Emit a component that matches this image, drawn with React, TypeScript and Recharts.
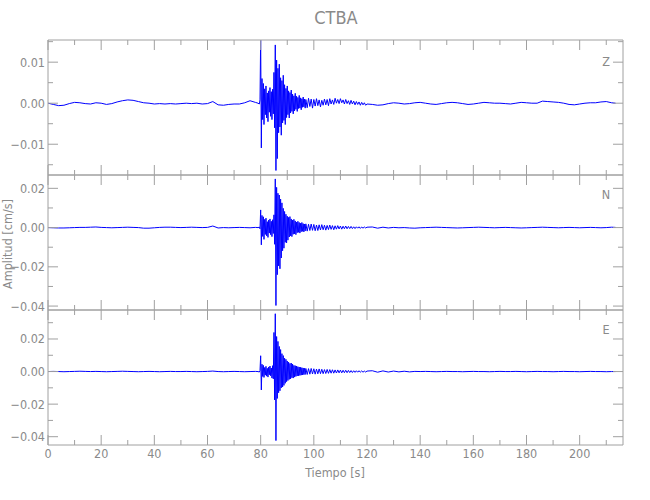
import { LineChart, Line, XAxis, YAxis } from 'recharts';

// time [s], split where the sampling step changes
const tA = [0, 2, 4, 6, 8, 10, 12, 14, 16, 18, 20, 22, 24, 26, 28, 30, 32, 34, 36, 38,
  40, 42, 44, 46, 48, 50, 52, 54, 56, 58, 60, 62, 64, 66, 68, 70, 72, 74, 76, 78];
const tB = [79, 79.5,
  79.75, 80, 80.25, 80.5, 80.75, 81, 81.25, 81.5, 81.75, 82,
  82.25, 82.5, 82.75, 83, 83.25, 83.5, 83.75, 84, 84.25, 84.5,
  84.75, 85, 85.25, 85.5, 85.75, 86, 86.25, 86.5, 86.75, 87,
  87.25, 87.5, 87.75, 88, 88.25, 88.5, 88.75, 89, 89.25, 89.5,
  89.75, 90, 90.25, 90.5, 90.75, 91, 91.25, 91.5, 91.75, 92,
  92.25, 92.5, 92.75, 93, 93.25, 93.5, 93.75, 94, 94.25, 94.5,
  94.75, 95, 95.25, 95.5, 95.75, 96, 96.25, 96.5, 96.75, 97];
const tC = [97.5, 98, 98.5, 99, 99.5, 100,
  100.5, 101, 101.5, 102, 102.5, 103, 103.5, 104, 104.5, 105,
  105.5, 106, 106.5, 107, 107.5, 108, 108.5, 109, 109.5, 110,
  110.5, 111, 111.5, 112, 112.5, 113, 113.5, 114, 114.5, 115,
  115.5, 116, 116.5, 117, 117.5, 118, 118.5, 119, 119.5, 120];
const tD = [122, 124, 126, 128, 130, 132, 134, 136, 138, 140, 142, 144, 146, 148, 150, 152,
  154, 156, 158, 160, 162, 164, 166, 168, 170, 172, 174, 176, 178, 180, 182, 184, 186, 188,
  190, 192, 194, 196, 198, 200, 202, 204, 206, 208, 210, 212, 213.5];

// Z component [cm/s]
const zA = [0, -0.0003, -0.0006, -0.0005, -0.0001, 0.0002, 0.0001, -0.0001, -0.0002, 0.0001,
  0, -0.0003, -0.0001, 0.0003, 0.0006, 0.0008, 0.0007, 0.0004, 0.0001, 0,
  -0.0002, -0.0001, -0.0002, -0.0001, -0.0002, -0.0001, 0, -0.0001, 0, -0.0002,
  -0.0001, 0.0004, -0.0004, -0.0005, -0.0003, -0.0002, -0.0002, 0.0001, 0.0006, 0.0002];
const zB = [0, -0.0002,
  0.0008, 0.016, -0.0109, 0.006, -0.004, 0.0048, -0.0052, 0.0035, -0.0028, 0.0042,
  -0.0036, 0.0025, -0.0045, 0.003, -0.0022, 0.0038, -0.0032, 0.0028, -0.004, 0.0034,
  -0.0026, 0.0075, -0.006, 0.0142, -0.0164, 0.0105, -0.0135, 0.0085, -0.0072, 0.0095,
  -0.0058, 0.0062, -0.0078, 0.0055, -0.0048, 0.0068, -0.0042, 0.0045, -0.0052, 0.0036,
  -0.0035, 0.0042, -0.0028, 0.003, -0.0036, 0.0026, -0.0024, 0.0032, -0.002, 0.0022,
  -0.0026, 0.0018, -0.0019, 0.0024, -0.0015, 0.0017, -0.002, 0.0014, -0.0013, 0.0019,
  -0.0012, 0.0013, -0.0016, 0.0011, -0.001, 0.0015, -0.0009, 0.001, -0.0012, 0.0009];
const zC = [-0.0011, 0.0012, -0.0008, 0.001, -0.0012, 0.0009,
  -0.0007, 0.0011, -0.0006, 0.0008, -0.0009, 0.0007, -0.0005, 0.001, -0.0004, 0.0009,
  -0.0006, 0.0011, -0.0002, 0.0008, -0.0003, 0.0012, 0, 0.0009, -0.0001, 0.0011,
  0.0001, 0.0008, -0.0002, 0.0009, -0.0001, 0.0006, -0.0003, 0.0007, -0.0002, 0.0005,
  -0.0004, 0.0004, -0.0003, 0.0003, -0.0005, 0.0002, -0.0004, 0.0001, -0.0005, -0.0002];
const zD = [-0.0003, -0.0005, -0.0004, -0.0001, 0.0001, 0, -0.0002, -0.0001, 0.0001, 0.0002,
  0, -0.0002, -0.0003, -0.0001, 0.0001, 0.0002, 0.0001, -0.0001, -0.0003, -0.0002,
  0, 0.0002, 0.0001, 0, 0, -0.0001, -0.0002, 0, 0.0002, 0.0001,
  0, 0, 0.0005, 0.0004, 0.0003, 0.0002, 0, -0.0003, -0.0004, -0.0002,
  0, 0.0001, 0.0001, 0.0003, 0.0004, 0.0001, 0];

// N component [cm/s]
const nA = [0, -0.0001, -0.0002, -0.0002, -0.0001, 0, 0.0001, 0.0001, 0.0002, 0.0003,
  0.0001, 0, -0.0001, 0, 0.0001, 0.0002, 0.0001, 0, -0.0003, -0.0003,
  -0.0001, 0.0001, 0.0002, 0.0002, 0.0001, 0, 0.0001, 0.0002, 0.0001, 0,
  0.0001, 0.0008, -0.0002, 0, -0.0001, 0, 0.0001, 0, -0.0001, 0.0001];
const nB = [0, 0.0002,
  -0.0006, 0.009, -0.0088, 0.0062, -0.0045, 0.0055, -0.006, 0.0042, -0.0035, 0.0048,
  -0.0042, 0.003, -0.005, 0.0038, -0.0028, 0.0044, -0.0036, 0.0032, -0.0046, 0.004,
  -0.003, 0.0065, -0.0085, 0.0248, -0.0397, 0.0205, -0.024, 0.0175, -0.0195, 0.0166,
  -0.021, 0.0145, -0.0155, 0.0126, -0.0118, 0.0098, -0.0105, 0.0082, -0.0075, 0.0068,
  -0.0078, 0.0058, -0.0064, 0.0052, -0.0048, 0.0056, -0.0042, 0.0044, -0.0046, 0.0038,
  -0.0034, 0.0042, -0.0032, 0.0034, -0.0036, 0.0028, -0.0026, 0.0032, -0.0024, 0.0026,
  -0.0028, 0.0022, -0.0021, 0.0026, -0.0019, 0.002, -0.0022, 0.0018, -0.0017, 0.0019];
const nC = [-0.0018, 0.0017, -0.0015, 0.0018, -0.0014, 0.0016,
  -0.0016, 0.0013, -0.0015, 0.0014, -0.0012, 0.0015, -0.0011, 0.0012, -0.0013, 0.0011,
  -0.001, 0.0013, -0.0009, 0.001, -0.0011, 0.0009, -0.0008, 0.001, -0.0007, 0.0008,
  -0.0008, 0.0007, -0.0006, 0.0008, -0.0006, 0.0006, -0.0005, 0.0006, -0.0005, 0.0004,
  -0.0005, 0.0004, -0.0003, 0.0004, -0.0004, 0.0003, -0.0003, 0.0003, -0.0002, 0.0002];
const nD = [0.0003, -0.0003, 0.0002, -0.0002, 0.0001, -0.0001, 0, -0.0002, -0.0003, -0.0001,
  0, 0.0001, 0.0002, 0.0001, 0, -0.0001, -0.0002, -0.0001, 0, 0.0001,
  0.0002, 0.0001, 0, -0.0001, 0, 0.0001, 0, -0.0001, -0.0002, -0.0001,
  0, 0.0001, 0.0002, 0.0001, 0, -0.0001, 0, 0.0001, 0, -0.0001,
  0, 0.0001, 0, -0.0001, 0, 0.0002, 0.0001];

// E component [cm/s]
const eA = [0, 0.0001, 0, -0.0001, 0, 0.0001, 0.0002, 0.0001, 0, 0.0001,
  0, -0.0001, 0, 0.0001, 0.0002, 0.0001, 0, -0.0001, 0, 0.0001,
  0, -0.0001, 0, 0.0001, 0, 0, 0.0001, 0, -0.0001, 0,
  0.0001, 0.0003, 0, -0.0001, 0, 0.0001, 0, -0.0001, 0, 0.0001];
const eB = [0, -0.0003,
  0.0006, 0.0097, -0.0113, 0.0045, -0.003, 0.0038, -0.0036, 0.0025, -0.0022, 0.0032,
  -0.0028, 0.002, -0.0034, 0.0028, -0.002, 0.0034, -0.0026, 0.0022, -0.004, 0.0036,
  -0.0045, 0.024, -0.0174, 0.0355, -0.0424, 0.0215, -0.0165, 0.0185, -0.013, 0.0154,
  -0.0118, 0.0135, -0.01, 0.011, -0.0095, 0.0098, -0.0085, 0.0082, -0.0072, 0.0075,
  -0.0062, 0.0065, -0.0055, 0.0058, -0.0048, 0.005, -0.0045, 0.0052, -0.0038, 0.0046,
  -0.004, 0.0038, -0.0034, 0.0036, -0.003, 0.0034, -0.0027, 0.003, -0.0026, 0.0028,
  -0.0024, 0.0026, -0.0022, 0.0024, -0.0021, 0.0022, -0.0019, 0.002, -0.0018, 0.0019];
const eC = [-0.0018, 0.0018, -0.0016, 0.0019, -0.0015, 0.0017,
  -0.0016, 0.0015, -0.0014, 0.0016, -0.0013, 0.0014, -0.0013, 0.0012, -0.0012, 0.0013,
  -0.0011, 0.0012, -0.001, 0.0011, -0.001, 0.001, -0.0009, 0.001, -0.0008, 0.0009,
  -0.0008, 0.0008, -0.0007, 0.0008, -0.0007, 0.0007, -0.0006, 0.0006, -0.0006, 0.0005,
  -0.0005, 0.0005, -0.0004, 0.0005, -0.0004, 0.0004, -0.0004, 0.0003, -0.0003, 0.0003];
const eD = [0.0005, -0.0004, 0.0004, -0.0003, 0.0003, -0.0002, 0.0002, -0.0002, 0.0001, 0,
  0.0001, 0, -0.0001, 0, 0.0001, 0, 0, -0.0001, 0, 0.0001,
  0, 0, -0.0001, 0, 0.0001, 0, 0, 0.0001, 0, -0.0001,
  0, 0.0001, 0, 0, -0.0001, 0, 0.0001, 0, 0, -0.0001,
  0, 0.0001, 0, 0, -0.0001, 0, 0];

// axis ticks
const xTicks = [0, 10, 20, 30, 40, 50, 60, 70, 80, 90, 100, 110, 120, 130, 140, 150, 160, 170, 180, 190, 200, 210];
const xMajor = [0, 20, 40, 60, 80, 100, 120, 140, 160, 180, 200];
const zTicks = [-0.015, -0.01, -0.005, 0, 0.005, 0.01, 0.015];
const zMajor = [-0.01, 0, 0.01];
const nTicks = [-0.04, -0.03, -0.02, -0.01, 0, 0.01, 0.02];
const nMajor = [-0.04, -0.02, 0, 0.02];
const eTicks = [-0.04, -0.03, -0.02, -0.01, 0, 0.01, 0.02, 0.03];
const eMajor = [-0.04, -0.02, 0, 0.02];

const time = [...tA, ...tB, ...tC, ...tD];
const zAll = [...zA, ...zB, ...zC, ...zD];
const nAll = [...nA, ...nB, ...nC, ...nD];
const eAll = [...eA, ...eB, ...eC, ...eD];
const rows = time.map((t, i) => ({ t, z: zAll[i], n: nAll[i], e: eAll[i] }));

const GRAY = '#a0a0a0';
const TEXT = '#8a8a8a';
const FONT = "'Liberation Sans Narrow', 'DejaVu Sans Condensed', 'Liberation Sans', sans-serif";
const X_DOMAIN = [0, 216.3];
const PLOT_H = 135;
const PAD = 12;

const fmtY = (v: number) => v.toFixed(2).replace('-', '\u2212');

function BottomTick(props: any) {
  const { x, y, payload, showLabel } = props;
  const major = xMajor.includes(payload.value);
  return (
    <g>
      <line x1={x} x2={x} y1={y} y2={y - (major ? 10 : 5)} stroke={GRAY} />
      {showLabel && major && (
        <text x={x} y={y + 13} textAnchor="middle" fill={TEXT} fontSize={12.5} fontFamily={FONT}>
          {payload.value}
        </text>
      )}
    </g>
  );
}

function TopTick(props: any) {
  const { x, y, payload } = props;
  const major = xMajor.includes(payload.value);
  return <line x1={x} x2={x} y1={y} y2={y + (major ? 10 : 5)} stroke={GRAY} />;
}

function LeftTick(props: any) {
  const { x, y, payload, majors } = props;
  const major = majors.includes(payload.value);
  return (
    <g>
      <line x1={x} x2={x + (major ? 10 : 5)} y1={y} y2={y} stroke={GRAY} />
      {major && (
        <text x={x - 3} y={y} dy="0.36em" textAnchor="end" fill={TEXT} fontSize={12.5} fontFamily={FONT}>
          {fmtY(payload.value)}
        </text>
      )}
    </g>
  );
}

function RightTick(props: any) {
  const { x, y, payload, majors } = props;
  const major = majors.includes(payload.value);
  return <line x1={x} x2={x - (major ? 10 : 5)} y1={y} y2={y} stroke={GRAY} />;
}

interface PanelProps {
  top: number;
  dataKey: string;
  domain: number[];
  ticks: number[];
  majors: number[];
  showX?: boolean;
}

function Panel({ top, dataKey, domain, ticks, majors, showX }: PanelProps) {
  const bottom = showX ? 30 : PAD;
  return (
    <div style={{ position: 'absolute', left: 0, top: top - PAD }}>
      <LineChart
        width={650}
        height={PAD + PLOT_H + bottom}
        data={rows}
        margin={{ top: PAD - 1, right: 26, bottom: bottom - 1, left: 0 }}
      >
        <XAxis
          dataKey="t"
          type="number"
          domain={X_DOMAIN}
          ticks={xTicks}
          interval={0}
          allowDataOverflow
          height={1}
          tickSize={0}
          tickMargin={0}
          tickLine={false}
          stroke={GRAY}
          tick={<BottomTick showLabel={showX} />}
        />
        <XAxis
          xAxisId="top"
          orientation="top"
          dataKey="t"
          type="number"
          domain={X_DOMAIN}
          ticks={xTicks}
          interval={0}
          allowDataOverflow
          height={1}
          tickSize={0}
          tickMargin={0}
          tickLine={false}
          stroke={GRAY}
          tick={<TopTick />}
        />
        <YAxis
          type="number"
          domain={domain}
          ticks={ticks}
          interval={0}
          allowDataOverflow
          width={48}
          tickSize={0}
          tickMargin={0}
          tickLine={false}
          stroke={GRAY}
          tick={<LeftTick majors={majors} />}
        />
        <YAxis
          yAxisId="r"
          orientation="right"
          type="number"
          domain={domain}
          ticks={ticks}
          interval={0}
          allowDataOverflow
          width={1}
          tickSize={0}
          tickMargin={0}
          tickLine={false}
          stroke={GRAY}
          tick={<RightTick majors={majors} />}
        />
        <Line
          dataKey={dataKey}
          stroke="#0000ff"
          strokeWidth={1}
          dot={false}
          isAnimationActive={false}
        />
      </LineChart>
    </div>
  );
}

export default function App() {
  return (
    <div style={{ position: 'absolute', left: 0, top: 0, width: 650, height: 500, background: '#fff' }}>
      <Panel top={40} dataKey="z" domain={[-0.0175, 0.0154]} ticks={zTicks} majors={zMajor} />
      <Panel top={175} dataKey="n" domain={[-0.042, 0.0268]} ticks={nTicks} majors={nMajor} />
      <Panel top={310} dataKey="e" domain={[-0.0451, 0.0378]} ticks={eTicks} majors={eMajor} showX />
      <svg
        width={650}
        height={500}
        style={{ position: 'absolute', left: 0, top: 0, pointerEvents: 'none' }}
        fontFamily={FONT}
        fill={TEXT}
      >
        <text x={336} y={24} textAnchor="middle" fontSize={18}>CTBA</text>
        <text x={606} y={66} textAnchor="middle" fontSize={12.5}>Z</text>
        <text x={606} y={199} textAnchor="middle" fontSize={12.5}>N</text>
        <text x={606} y={334} textAnchor="middle" fontSize={12.5}>E</text>
        <text x={335} y={477} textAnchor="middle" fontSize={12.5}>Tiempo [s]</text>
        <text x={12} y={244} textAnchor="middle" fontSize={12.5} transform="rotate(-90 12 244)">
          Amplitud [cm/s]
        </text>
      </svg>
    </div>
  );
}
